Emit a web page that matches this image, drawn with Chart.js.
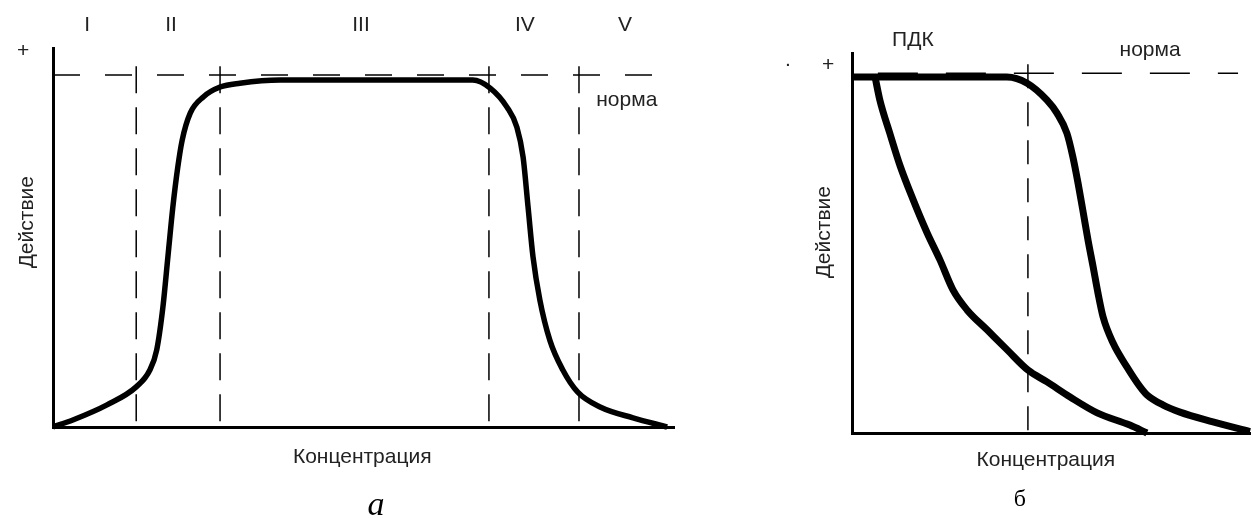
<!DOCTYPE html>
<html>
<head>
<meta charset="utf-8">
<script src="https://cdn.jsdelivr.net/npm/chart.js@4.4.1/dist/chart.umd.min.js"></script>
<style>
  html, body { margin: 0; padding: 0; background: #fff; }
  #wrap { position: relative; width: 1253px; height: 518px; overflow: hidden; }
  canvas { position: absolute; top: 0; }
  #chartA { left: 0; }
  #chartB { left: 740px; }
</style>
</head>
<body>
<div id="wrap">
  <canvas id="chartA" width="740" height="518"></canvas>
  <canvas id="chartB" width="513" height="518"></canvas>
</div>
<script>
// panel a: bell-shaped action vs. concentration
const curveAx = [0, 3.2, 8.7, 13.4, 15.6, 16.7, 17.7, 18.5, 19.3, 20.1, 20.8, 22.1, 24.2, 26.9, 30.1, 36.6,
                 67.6, 70.4, 73.1, 74.7, 75.7, 76.5, 77.3, 78.4, 80.0, 82.1, 84.5, 88.1, 93.4, 98.9];
const curveAy = [0, 2, 6.3, 11.4, 16.2, 21.9, 34.1, 48.3, 62.5, 73.9, 81.5, 89.2, 93.8, 96.6, 97.7, 98.6,
                 98.6, 96.3, 90.9, 85.2, 76.7, 62.5, 48.3, 36.1, 24.7, 16.2, 9.9, 5.7, 2.6, 0];
const zoneBounds = [13.4, 26.9, 70.2, 84.7];
const zoneLabels = ['I', 'II', 'III', 'IV', 'V'];
const zoneCenters = [5.5, 19, 49.6, 76, 92.1];
const normA = 100;

// panel б: two descending curves
const curveBx = [0, 38.9, 44, 49, 51.5, 54, 55.5, 56.8, 58, 59.3, 60.6, 61.8, 63.1, 65.6, 69.1, 72.4, 74.1, 78.1, 82.4, 90.7, 100];
const curveBy = [98.9, 98.9, 97.2, 92.5, 88.9, 83.3, 76.7, 69.4, 61.9, 53.6, 46.1, 38.9, 32.2, 25, 18.3, 12.8, 10.6, 7.8, 5.8, 3.1, 0.4];
const curveCx = [5.8, 7, 9.5, 12.1, 15.3, 18.8, 22.1, 25.4, 28.9, 34, 39, 44.2, 49, 54.8, 61.6, 69.8, 74.1];
const curveCy = [98.9, 92.5, 83.3, 74.2, 65, 55.8, 48.1, 39.7, 34.2, 28.6, 23.1, 17.5, 14.2, 10, 5.6, 2.2, 0];
const pdk = 44.2;
const normB = 100;

const pts = (xs, ys) => xs.map((x, i) => ({ x: x, y: ys[i] }));
const FONT = '"Liberation Sans", Arial, sans-serif';

// draws free text at data coordinates
const textPlugin = {
    id: 'freeText',
    afterDraw(chart, args, opts) {
        const ctx = chart.ctx;
        const xs = chart.scales.x, ys = chart.scales.y;
        (opts.items || []).forEach(it => {
            ctx.save();
            ctx.font = it.font || ('21px ' + FONT);
            ctx.fillStyle = it.color || '#222';
            ctx.textAlign = 'center';
            ctx.textBaseline = 'middle';
            ctx.translate(xs.getPixelForValue(it.x), ys.getPixelForValue(it.y));
            if (it.rotate) ctx.rotate(it.rotate);
            ctx.fillText(it.text, 0, 0);
            ctx.restore();
        });
    }
};

function lineSet(data, width, dash) {
    return {
        data: data,
        borderColor: '#000',
        borderWidth: width,
        borderDash: dash || [],
        pointRadius: 0,
        fill: false,
        clip: false,
        cubicInterpolationMode: dash ? 'default' : 'monotone',
        tension: 0
    };
}

function axes(ymax) {
    return {
        x: {
            type: 'linear', min: 0, max: 100,
            ticks: { display: false },
            grid: { display: false, drawTicks: false },
            border: { display: true, color: '#000', width: 3 }
        },
        y: {
            type: 'linear', min: 0, max: ymax,
            ticks: { display: false },
            grid: { display: false, drawTicks: false },
            border: { display: true, color: '#000', width: 3 }
        }
    };
}

const dashA = [
    lineSet([{ x: 0, y: normA }, { x: 98, y: normA }], 1.5, [27, 25])
].concat(zoneBounds.map(b => lineSet([{ x: b, y: 102.5 }, { x: b, y: 0 }], 1.5, [27, 14])));

new Chart(document.getElementById('chartA'), {
    type: 'line',
    data: {
        datasets: [lineSet(pts(curveAx, curveAy), 5.5)].concat(dashA)
    },
    options: {
        responsive: false,
        animation: false,
        layout: { padding: { left: 53, right: 66, top: 48, bottom: 91 } },
        scales: axes(107.7),
        plugins: {
            legend: { display: false },
            tooltip: { enabled: false },
            freeText: {
                items: zoneLabels.map((t, i) => ({ text: t, x: zoneCenters[i], y: 114.2 })).concat([
                    { text: '+', x: -4.8, y: 106.8 },
                    { text: 'норма', x: 92.4, y: 92.9 },
                    { text: 'Действие', x: -4.2, y: 58.2, rotate: -Math.PI / 2 },
                    { text: 'Концентрация', x: 49.8, y: -8.5 },
                    { text: 'a', x: 52, y: -22.5, font: 'italic 34px "Liberation Serif", "Times New Roman", serif', color: '#000' }
                ])
            }
        }
    },
    plugins: [textPlugin]
});

new Chart(document.getElementById('chartB'), {
    type: 'line',
    data: {
        datasets: [
            lineSet(pts(curveBx, curveBy), 7),
            lineSet(pts(curveCx, curveCy), 7),
            lineSet([{ x: 6.5, y: normB }, { x: 97, y: normB }], 1.5, [40, 28]),
            lineSet([{ x: pdk, y: 102.5 }, { x: pdk, y: 0 }], 1.5, [24, 14])
        ]
    },
    options: {
        responsive: false,
        animation: false,
        layout: { padding: { left: 112, right: 3, top: 53, bottom: 85 } },
        scales: axes(105.6),
        plugins: {
            legend: { display: false },
            tooltip: { enabled: false },
            freeText: {
                items: [
                    { text: '.', x: -16.1, y: 103.5 },
                    { text: '+', x: -6, y: 102.2 },
                    { text: 'ПДК', x: 15.3, y: 109.2 },
                    { text: 'норма', x: 74.9, y: 106.4 },
                    { text: 'Действие', x: -7, y: 55.8, rotate: -Math.PI / 2 },
                    { text: 'Концентрация', x: 48.7, y: -7.5 },
                    { text: 'б', x: 42.2, y: -18.6, font: '24px "Liberation Serif", "Times New Roman", serif', color: '#000' }
                ]
            }
        }
    },
    plugins: [textPlugin]
});
</script>
</body>
</html>
